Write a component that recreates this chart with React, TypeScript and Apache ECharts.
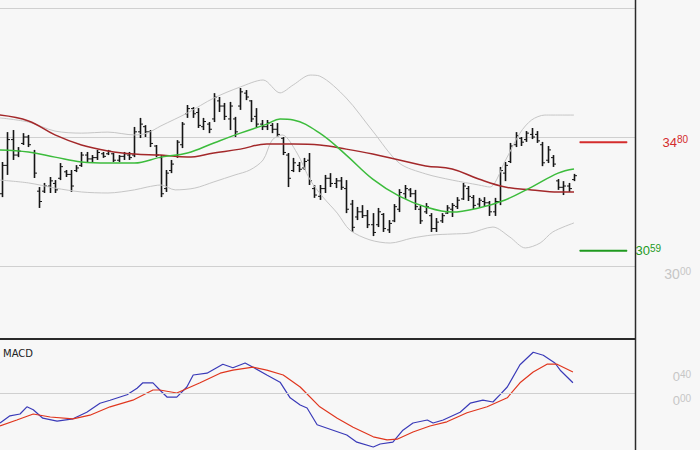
import { useEffect, useRef } from 'react';
import * as echarts from 'echarts';

// OHLC bars (price units), one per trading day
const opens = [32.80,33.90,34.90,34.30,34.75,35.00,34.40,32.90,32.90,33.10, 33.20,33.40,33.65,33.55,33.70,33.90,34.30,34.15,34.20,34.35, 34.35,34.35,34.10,34.25,34.30,34.30,35.20,35.40,35.20,34.65, 34.20,33.00,33.70,34.25,34.70,35.90,36.10,35.95,35.40,35.50, 35.70,36.40,36.20,35.70,35.70,36.20,36.70,36.40,35.80,35.50, 35.40,35.45,35.30,34.95,34.30,33.70,33.90,33.80,34.10,33.00, 32.70,33.00,33.40,33.20,33.30,33.00,32.40,31.90,32.10,31.95, 31.60,31.60,32.00,31.40,31.75,32.20,32.80,32.95,32.80,32.20, 32.10,31.95,31.45,31.75,32.05,32.20,32.30,32.60,33.00,32.65, 32.40,32.50,32.45,32.10,32.50,33.60,34.05,34.70,34.95,34.90, 35.10,35.10,34.70,34.10,34.20,33.30,33.05,33.10,33.35];
const highs = [34.03,35.19,35.27,34.61,35.15,35.08,34.50,33.06,33.22,33.45, 33.33,33.99,33.72,33.72,33.91,34.42,34.42,34.30,34.50,34.42, 34.50,34.38,34.30,34.42,34.42,35.39,35.74,35.46,35.27,34.69, 34.30,33.72,34.11,34.88,35.58,36.24,36.16,36.12,35.74,35.58, 36.70,36.55,36.32,36.36,35.78,36.90,36.82,36.43,36.12,35.66, 35.66,35.54,35.54,35.00,34.38,34.19,34.03,34.19,34.38,33.14, 33.14,33.53,33.60,33.41,33.45,33.33,32.56,32.29,32.36,32.17, 32.05,32.25,32.05,31.78,32.40,32.98,33.14,33.02,32.95,32.33, 32.44,32.05,31.86,32.05,32.36,32.44,32.67,33.22,33.10,32.75, 32.64,32.67,32.52,32.64,33.84,34.03,34.77,35.19,35.00,35.23, 35.35,35.23,34.81,34.65,34.30,33.37,33.29,33.22,33.57];
const lows = [32.67,33.53,34.11,34.22,34.69,34.61,33.41,32.25,32.83,32.83, 32.83,33.33,33.45,32.87,33.64,33.84,34.03,34.03,34.11,34.19, 34.30,34.03,34.03,34.11,34.11,34.22,34.96,35.00,34.61,34.22, 32.67,32.87,33.60,34.19,34.57,35.74,35.74,35.35,35.27,35.15, 35.58,35.97,35.66,35.27,35.00,36.05,36.43,35.58,35.35,35.27, 35.27,35.15,35.00,34.30,33.06,33.64,33.64,33.72,33.14,32.64, 32.56,32.83,33.06,33.02,32.95,32.05,31.32,31.78,31.86,31.47, 31.16,31.51,31.32,31.28,31.70,32.09,32.60,32.67,32.17,31.63, 32.02,31.32,31.32,31.67,32.02,31.90,32.21,32.56,32.52,32.21, 32.29,32.29,31.94,31.94,32.36,33.29,33.99,34.61,34.65,34.81, 34.92,34.77,33.87,33.99,33.84,32.95,32.75,32.87,33.29];
const closes = [33.90,34.90,34.30,34.45,35.00,34.70,33.60,32.50,33.10,33.30, 32.95,33.85,33.55,33.10,33.80,34.30,34.15,34.20,34.40,34.25, 34.45,34.10,34.25,34.35,34.20,35.20,35.50,35.20,34.75,34.30, 32.80,33.60,33.95,34.80,35.50,36.10,35.90,35.45,35.60,35.30, 36.55,36.20,35.80,36.20,35.20,36.75,36.55,35.70,35.50,35.40, 35.55,35.30,35.10,34.40,33.40,34.00,33.75,34.05,33.30,32.75, 33.00,33.40,33.20,33.30,33.05,32.20,31.50,32.10,31.95,31.60, 31.30,32.10,31.45,31.65,32.30,32.85,33.00,32.80,32.30,31.75, 32.30,31.45,31.70,31.95,32.25,32.35,32.55,33.10,32.70,32.35, 32.55,32.45,32.10,32.50,33.70,33.90,34.65,35.05,34.80,35.15, 35.00,34.85,34.00,34.50,33.95,33.05,33.10,33.00,33.50];

// Indicator lines: [bar index, value]
const maShort = [[-0.4,34.50],[5,34.42],[10,34.22],[15,34.03],[20,33.99],[25,33.99],[30,34.22],[35,34.38],[40,34.77],[45,35.15],[50,35.50],[52.5,35.70],[55,35.66],[60,35.15],[65,34.30],[70,33.37],[75,32.71],[80,32.29],[85,32.09],[90,32.25],[95,32.56],[100,33.06],[105,33.60],[108,33.76]];
const maLong = [[-0.4,35.85],[5,35.62],[10,35.08],[15,34.69],[20,34.46],[25,34.34],[30,34.30],[35,34.22],[40,34.38],[45,34.53],[50,34.73],[55,34.73],[60,34.69],[65,34.53],[70,34.34],[75,34.11],[80,33.88],[85,33.76],[90,33.37],[95,33.06],[100,32.95],[105,32.87],[108,32.87]];
const bandUpper = [[-0.4,35.74],[5,35.58],[10,35.23],[15,35.15],[20,35.19],[25,35.08],[27.4,35.15],[30,35.43],[35,35.93],[40,36.51],[45,36.94],[49.3,37.21],[52.5,36.71],[55,37.02],[58.2,37.40],[60,37.36],[65,36.51],[70,35.23],[75,33.99],[80,33.57],[85,33.33],[90,33.14],[92.1,33.06],[95,34.07],[97.8,35.15],[100,35.66],[102.5,35.85],[108,35.85]];
const bandLower = [[-0.4,33.33],[5,33.22],[10,33.02],[15,32.87],[20,32.83],[25,32.95],[27.4,33.06],[30,33.14],[32.7,32.95],[36.4,33.02],[40,33.26],[44,33.53],[46.8,33.72],[49.3,34.11],[51,34.88],[52.9,35.08],[55.7,34.38],[58.2,33.33],[60.6,32.67],[63.3,32.05],[65.7,31.39],[69.5,31.01],[73.3,30.89],[77.4,31.08],[81.2,31.20],[85,31.24],[88.4,31.28],[92.7,31.51],[95.9,31.12],[98.8,30.70],[101.6,30.89],[104,31.32],[108,31.67]];
const macdLine = [[-0.38,-0.50],[1.5,-0.38],[3.4,-0.35],[4.7,-0.23],[5.9,-0.28],[7.7,-0.42],[10.4,-0.47],[13.4,-0.43],[16,-0.32],[18.5,-0.17],[20.4,-0.12],[23.6,-0.03],[25.5,0.08],[26.6,0.17],[28.5,0.17],[29.8,0.05],[31.2,-0.07],[33,-0.07],[34.9,0.10],[36.1,0.30],[38.7,0.33],[41.7,0.48],[43.6,0.42],[45.9,0.50],[47.4,0.43],[50,0.30],[52.5,0.18],[54.4,-0.08],[56.3,-0.20],[57.6,-0.25],[59.5,-0.53],[62.5,-0.62],[65.1,-0.70],[67,-0.82],[70.1,-0.90],[71.4,-0.85],[73.8,-0.82],[75.7,-0.62],[77.6,-0.50],[80.3,-0.45],[81.4,-0.50],[83.3,-0.45],[86.5,-0.32],[88.4,-0.17],[90.8,-0.12],[92.7,-0.15],[94,-0.03],[95.4,0.10],[97.8,0.47],[100.3,0.68],[102.2,0.63],[104.4,0.50],[105.4,0.38],[107.8,0.17]];
const macdSignal = [[-0.38,-0.55],[2.8,-0.45],[5.9,-0.35],[9.1,-0.40],[13.4,-0.43],[16.6,-0.37],[20.4,-0.23],[24.7,-0.12],[28.5,0.05],[29.8,0.05],[33,0.00],[37.4,0.17],[41.2,0.33],[43.6,0.38],[47.4,0.43],[50,0.38],[53.1,0.30],[56.3,0.10],[60,-0.23],[63.3,-0.42],[66.3,-0.57],[70.1,-0.73],[72.7,-0.78],[74.6,-0.77],[77.6,-0.65],[80.8,-0.55],[84,-0.48],[87.8,-0.33],[91.6,-0.23],[95.4,-0.08],[97.8,0.17],[100.3,0.35],[102.9,0.48],[104.8,0.48],[107.8,0.35]];

// Key levels shown at the right
const resistance = 34.80;
const support = 30.59;
const priceTicks = [30];
const macdTicks = [0, 0.4];

const X_MIN = -0.38;
const X_MAX = 119.52;
const LEVEL_FROM = 109.1;
const LEVEL_TO = 118;

const FONT = 'Liberation Sans, Arial, sans-serif';

const fmt = (v: number) => {
  const [a, b] = v.toFixed(2).split('.');
  return `{a|${a}}{b|${b}}`;
};
const rich = (color: string, big = 13) => ({
  a: { fontSize: big, lineHeight: big + 2, color, fontFamily: FONT },
  b: { fontSize: 10, lineHeight: 11, color, fontFamily: FONT, verticalAlign: 'top' },
});

export default function App() {
  const ref = useRef<HTMLDivElement>(null);
  useEffect(() => {
    if (!ref.current) return;
    const chart = echarts.init(ref.current, undefined, { renderer: 'svg' });
    const bars = highs.map((h, i) => [i, opens[i], h, lows[i], closes[i]]);
    const lineBase = (data: number[][], color: string, width: number, smooth: number | boolean, grid = 0) => ({
      type: 'line',
      xAxisIndex: grid,
      yAxisIndex: grid,
      data,
      symbol: 'none',
      smooth,
      clip: false,
      lineStyle: { color, width },
      silent: true,
      z: 3,
    });
    const levelSeries = (v: number, color: string, dist: number) => ({
      type: 'line',
      xAxisIndex: 0,
      yAxisIndex: 0,
      symbol: 'circle',
      symbolSize: 1,
      showSymbol: true,
      itemStyle: { color },
      lineStyle: { color, width: 2 },
      data: [
        [LEVEL_FROM, v],
        {
          value: [LEVEL_TO, v],
          label: { show: true, position: 'right', distance: dist, formatter: fmt(v), rich: rich(color) },
        },
      ],
      z: 4,
    });
    chart.setOption({
      animation: false,
      backgroundColor: '#f7f7f7',
      title: {
        text: 'MACD',
        left: 3,
        top: 348,
        padding: 0,
        textStyle: { fontSize: 10, fontWeight: 'normal', color: '#222', fontFamily: 'DejaVu Sans, sans-serif' },
      },
      grid: [
        { left: 0, top: 8, width: 635, height: 258 },
        { left: 0, top: 345, width: 635, height: 96 },
      ],
      xAxis: [
        { type: 'value', gridIndex: 0, min: X_MIN, max: X_MAX, show: false },
        { type: 'value', gridIndex: 1, min: X_MIN, max: X_MAX, show: false },
      ],
      yAxis: [
        {
          type: 'value', gridIndex: 0, position: 'right', min: 30, max: 40, interval: 5,
          axisLine: { show: false }, axisTick: { show: false },
          splitLine: { lineStyle: { color: '#d0d0d0', width: 1 } },
          axisLabel: {
            align: 'right', margin: 56, verticalAlign: 'top',
            formatter: (v: number) => (priceTicks.includes(v) ? fmt(v) : ''),
            rich: rich('#c6c6c6', 14),
          },
        },
        {
          type: 'value', gridIndex: 1, position: 'right', min: -0.8, max: 0.8, interval: 0.4,
          axisLine: { show: false }, axisTick: { show: false }, splitLine: { show: false },
          axisLabel: {
            align: 'right', margin: 56, verticalAlign: 'top',
            formatter: (v: number) => (macdTicks.some((t) => Math.abs(t - v) < 1e-6) ? fmt(Math.abs(v) < 1e-6 ? 0 : v) : ''),
            rich: rich('#c6c6c6', 13),
          },
        },
      ],
      graphic: [
        { type: 'line', shape: { x1: 635.5, y1: 0, x2: 635.5, y2: 450 }, style: { stroke: '#2a2a2a', lineWidth: 1.5 }, z: 100 },
        { type: 'line', shape: { x1: 0, y1: 339, x2: 635, y2: 339 }, style: { stroke: '#2a2a2a', lineWidth: 2 }, z: 100 },
      ],
      series: [
        {
          type: 'custom',
          xAxisIndex: 0,
          yAxisIndex: 0,
          data: bars,
          encode: { x: 0, y: [1, 2, 3, 4] },
          z: 2,
          renderItem: (params: any, api: any) => {
            const i = api.value(0);
            const pO = api.coord([i, api.value(1)]);
            const pH = api.coord([i, api.value(2)]);
            const pL = api.coord([i, api.value(3)]);
            const pC = api.coord([i, api.value(4)]);
            const x = Math.round(pH[0]) + 0.5;
            const st = { stroke: '#161616', lineWidth: 1.6 };
            return {
              type: 'group',
              children: [
                { type: 'line', shape: { x1: x, y1: pH[1], x2: x, y2: pL[1] }, style: st },
                { type: 'line', shape: { x1: x - 2.5, y1: pO[1], x2: x, y2: pO[1] }, style: { stroke: '#161616', lineWidth: 1 } },
                { type: 'line', shape: { x1: x, y1: pC[1], x2: x + 2.5, y2: pC[1] }, style: { stroke: '#161616', lineWidth: 1 } },
              ],
            };
          },
        },
        lineBase(bandUpper, '#c6c6c6', 1, 0.3),
        lineBase(bandLower, '#c6c6c6', 1, 0.3),
        lineBase(maLong, '#a3282a', 1.5, 0.4),
        lineBase(maShort, '#3cbc3c', 1.5, 0.4),
        levelSeries(resistance, '#d42c2c', 35),
        levelSeries(support, '#1f9a1f', 8),
        {
          ...lineBase(macdLine, '#3a3ab8', 1.2, false, 1),
          markLine: {
            silent: true,
            symbol: 'none',
            label: { show: false },
            lineStyle: { color: '#d0d0d0', type: 'solid', width: 1 },
            data: [{ yAxis: 0 }],
          },
        },
        lineBase(macdSignal, '#e0361e', 1.2, false, 1),
      ],
    });
    return () => chart.dispose();
  }, []);
  return <div ref={ref} style={{ position: 'absolute', left: 0, top: 0, width: 700, height: 450 }} />;
}
